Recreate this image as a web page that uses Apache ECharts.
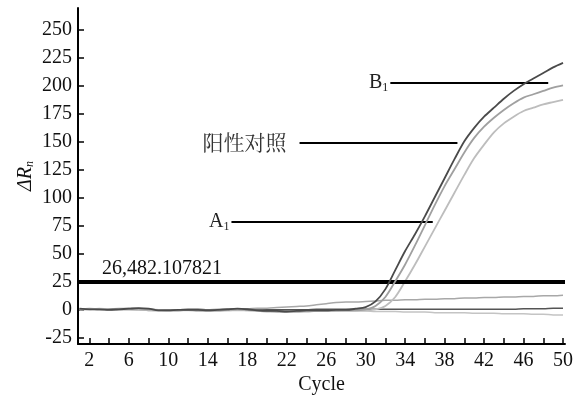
<!DOCTYPE html>
<html>
<head>
<meta charset="utf-8">
<script src="https://cdn.jsdelivr.net/npm/echarts@6/dist/echarts.min.js"></script>
<style>html,body{margin:0;padding:0;background:#fff;}#c{width:577px;height:398px;}</style>
</head>
<body>
<div id="c"></div>
<script>
// Cycles
const cycles = [1,2,3,4,5,6,7,8,9,10,11,12,13,14,15,16,17,18,19,20,21,22,23,24,25,26,27,28,29,30,31,32,33,34,35,36,37,38,39,40,41,42,43,44,45,46,47,48,49,50];
// Amplification curves (ΔRn)
const darkCurve = [0.5,0,0,-0.5,0,0.5,1,0.5,-1,-1,-0.5,-0.5,-0.5,-1,-0.5,0,0.5,0,-1,-1.5,-1.5,-2,-1.5,-1,-1,-1,-0.5,-0.5,0.5,2,7,18,35,52,67,83,100,117,134,150,162,172,180,188,195,201,206,211,216,220];
const mediumCurve = [0,0.5,0,0,0.5,0.5,0.5,0,-0.5,-1,-1,-0.5,-1,-1,-1,-0.5,0,-0.5,-1,-1.5,-2,-2,-2,-1.5,-1.5,-1.5,-1,-1,-1,0,3,11,25,40,57,75,93,110,125,140,153,163,171,178,184,189,192,195,198,200];
const lightCurve = [-0.5,0,0.5,0,0,0.5,0,-0.5,-1,-1,-1,-0.5,-1,-1.5,-1,-1,-0.5,-1,-1.5,-2,-2,-2.5,-2,-2,-1.5,-1.5,-1.5,-1,-1,-1,0,3,11,25,40,56,72,88,104,120,135,147,158,166,172,177,180,183,185,187];
// Non-amplifying baselines
const flatDark = [0,0.5,0,0,0.5,0.5,0.5,0,-0.5,-0.5,-0.5,0,0,-0.5,-0.5,0,0,0,-0.5,-0.5,-0.5,-0.5,-0.5,-0.5,0,0,0,0,0,0,0,0,0,0,0,0,0,0,0,0,0,0,0,0,0,0.5,0.5,0.5,1,1];
const grayRising = [0,0,0,0,-0.5,-0.5,-0.5,-1,-1,-1,-1,-0.5,-0.5,-0.5,0,0,0.5,0.5,1,1,1.5,2,2.5,3,4,5,6,6.5,6.5,7,7.5,8,8,8.5,8.5,9,9,9.5,9.5,10,10,10.5,10.5,11,11,11.5,11.5,12,12,12.5];
const lightNegative = [0,0,-0.5,-0.5,0,0,-0.5,-1,-1,-1,-1,-1,-1.5,-1.5,-1.5,-1,-1,-1,-1.5,-2,-2,-2,-2,-2,-1.5,-1.5,-1.5,-1.5,-1.5,-1.5,-2,-2,-2,-2.5,-2.5,-2.5,-3,-3,-3,-3,-3.5,-3.5,-3.5,-4,-4,-4,-4.5,-4.5,-5,-5];
// Axis ticks
const yTicks = [-25,0,25,50,75,100,125,150,175,200,225,250];
const xTicks = [2,4,6,8,10,12,14,16,18,20,22,24,26,28,30,32,34,36,38,40,42,44,46,48,50];
const xLabels = [2,6,10,14,18,22,26,30,34,38,42,46,50];
// Threshold and annotations
const threshold = 25;
const thresholdLabel = '26,482.107821';
const annotations = [
  {name: 'B', sub: '1', y: 202, from: 32.5, to: 48.5},
  {name: '阳性对照', sub: '', y: 149, from: 23.3, to: 39.3},
  {name: 'A', sub: '1', y: 78, from: 16.4, to: 36.8}
];

const pair = arr => cycles.map((c, i) => [c, arr[i]]);
const serif = '"Liberation Serif","DejaVu Serif",serif';
const FS = 20;

function lineSeries(arr, color, width, z) {
  return {type: 'line', data: pair(arr), smooth: 0.3, symbol: 'none', z: z,
    lineStyle: {color: color, width: width}, silent: true, animation: false};
}

const series = [
  lineSeries(lightNegative, '#c4c4c4', 1.5, 2),
  lineSeries(grayRising, '#a8a8a8', 1.5, 2),
  lineSeries(flatDark, '#555555', 1.5, 3),
  lineSeries(lightCurve, '#bdbdbd', 1.8, 4),
  lineSeries(mediumCurve, '#a0a0a0', 1.8, 5),
  lineSeries(darkCurve, '#4a4a4a', 1.8, 6)
];

series.push({
  type: 'line', data: [], z: 10, silent: true, animation: false,
  markLine: {
    symbol: 'none', silent: true, animation: false,
    data: [
      {yAxis: threshold,
       lineStyle: {color: '#000', width: 4, type: 'solid'},
       label: {show: true, position: 'insideStartTop', distance: [24, 3], formatter: thresholdLabel,
         color: '#111', fontFamily: serif, fontSize: FS}}
    ].concat(annotations.map(a => [
      {coord: [a.from, a.y],
       lineStyle: {color: '#000', width: 2, type: 'solid'},
       label: {show: true, position: 'start', distance: a.sub ? 2 : 13,
         formatter: a.sub ? '{m|' + a.name + '}{s|' + a.sub + '}' : '{c|' + a.name + '}',
         rich: {
           m: {fontFamily: serif, fontSize: FS, color: '#222'},
           s: {fontFamily: serif, fontSize: 12, color: '#222', verticalAlign: 'bottom', padding: [9, 0, 0, 0]},
           c: {fontFamily: '"Noto Serif CJK SC","Noto Sans CJK SC",serif', fontSize: 21, color: '#333'}
         }}},
      {coord: [a.to, a.y]}
    ]))
  }
});

const chart = echarts.init(document.getElementById('c'), null, {renderer: 'canvas'});
chart.setOption({
  animation: false,
  backgroundColor: '#fff',
  grid: {left: 78, right: 12, top: 8, bottom: 54, containLabel: false, outerBoundsMode: 'none'},
  xAxis: {
    type: 'value', min: 0.85, max: 50.2,
    name: 'Cycle', nameLocation: 'middle', nameGap: 31, nameMoveOverlap: false,
    nameTextStyle: {fontFamily: serif, fontSize: FS, color: '#111'},
    axisLine: {show: true, onZero: false, lineStyle: {color: '#000', width: 2}},
    axisTick: {show: true, inside: true, length: 6, customValues: xTicks, lineStyle: {color: '#000', width: 1.5}},
    axisLabel: {customValues: xLabels, fontFamily: serif, fontSize: FS, color: '#111', margin: 7},
    splitLine: {show: false}
  },
  yAxis: {
    type: 'value', min: -31, max: 269,
    name: '{a|ΔR}{b|n}', nameLocation: 'middle', nameGap: 42, nameRotate: 90, nameMoveOverlap: false,
    nameTextStyle: {
      padding: [0, 0, 0, 0],
      rich: {
        a: {fontFamily: serif, fontStyle: 'italic', fontSize: FS, color: '#111'},
        b: {fontFamily: serif, fontStyle: 'italic', fontSize: 12, color: '#111', verticalAlign: 'bottom', padding: [9, 0, 0, 0]}
      }
    },
    axisLine: {show: true, onZero: false, lineStyle: {color: '#000', width: 2}},
    axisTick: {show: true, inside: true, length: 6, customValues: yTicks, lineStyle: {color: '#000', width: 1.5}},
    axisLabel: {customValues: yTicks, fontFamily: serif, fontSize: FS, color: '#111', margin: 6},
    splitLine: {show: false}
  },
  series: series
});
</script>
</body>
</html>
